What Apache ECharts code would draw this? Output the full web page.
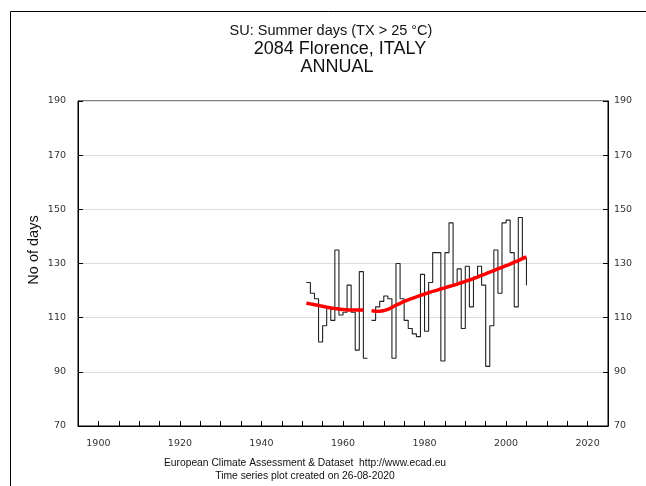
<!DOCTYPE html>
<html><head><meta charset="utf-8">
<script src="https://cdn.jsdelivr.net/npm/echarts@6/dist/echarts.min.js"></script>
<style>html,body{margin:0;padding:0;background:#fff}#c{width:646px;height:486px}</style>
</head><body><div id="c"></div>
<script>
const years = [1951,1952,1953,1954,1955,1956,1957,1958,1959,1960,1961,1962,1963,1964,1965,1966,1967,1968,1969,1970,1971,1972,1973,1974,1975,1976,1977,1978,1979,1980,1981,1982,1983,1984,1985,1986,1987,1988,1989,1990,1991,1992,1993,1994,1995,1996,1997,1998,1999,2000,2001,2002,2003,2004,2005];
const summerDays = [123,119,117,101,107,114,109,135,111,112,122,112,98,127,95,null,109,114,116,118,117,95,130,117,109,106,104,103,126,105,123,134,134,94,134,145,122,128,106,129,114,125,129,122,92,107,135,119,145,146,134,114,147,132,122];
const trend = [115.3,115.1,114.8,114.5,114.2,113.9,113.6,113.4,113.2,113.0,112.9,112.8,112.8,112.8,112.8,null,112.6,112.4,112.4,112.6,113.1,113.8,114.6,115.3,116.0,116.6,117.1,117.7,118.2,118.7,119.2,119.7,120.1,120.6,121.0,121.5,121.9,122.4,122.9,123.4,123.9,124.4,125.0,125.6,126.2,126.8,127.4,128.0,128.6,129.2,129.8,130.5,131.1,131.8,132.4];
const xLabelYears = [1900,1920,1940,1960,1980,2000,2020];
const titleLines = ['SU: Summer days (TX > 25 °C)','2084 Florence, ITALY','ANNUAL'];
const yAxisTitle = 'No of days';
const footerLines = ['European Climate Assessment & Dataset  http://www.ecad.eu','Time series plot created on 26-08-2020'];

const chart = echarts.init(document.getElementById('c'), null, {renderer:'canvas'});
const pair = arr => years.map((y,i)=>[y, arr[i]===null ? '-' : arr[i]]);
const tickFont = {fontFamily:'DejaVu Sans', fontSize:9.5, color:'#333'};
const yAxisCommon = {
  type:'value', min:70, max:190, interval:20,
  axisLine:{show:true, lineStyle:{color:'#000', width:1}},
  axisTick:{show:true, inside:true, length:5, lineStyle:{color:'#000'}},
  splitLine:{show:true, lineStyle:{color:'#dcdcdc', width:1}}
};
chart.setOption({
  animation:false,
  backgroundColor:'#fff',
  grid:{left:78, right:38, top:101, bottom:60, show:true, borderColor:'#000', borderWidth:1},
  xAxis:{
    type:'value', min:1895, max:2025, interval:5,
    axisLine:{show:true, onZero:false, lineStyle:{color:'#000', width:1}},
    axisTick:{show:true, inside:true, length:5, lineStyle:{color:'#000'}},
    splitLine:{show:false},
    axisLabel:Object.assign({margin:13, showMinLabel:true, showMaxLabel:true,
      formatter:v => xLabelYears.includes(v) ? String(v) : ''}, tickFont)
  },
  yAxis:[
    Object.assign({position:'left', axisLabel:Object.assign({margin:12}, tickFont)}, yAxisCommon),
    Object.assign({position:'right', axisLabel:Object.assign({margin:6}, tickFont)}, yAxisCommon, {splitLine:{show:false}})
  ],
  series:[
    {type:'line', data:pair(summerDays), step:'end', symbol:'none', connectNulls:false,
     lineStyle:{color:'#222', width:1.1}, z:2},
    {type:'line', data:pair(trend), smooth:true, symbol:'none', connectNulls:false,
     lineStyle:{color:'#ff0000', width:3.5}, z:3}
  ],
  graphic:[
    {type:'rect', shape:{x:10.5, y:11.5, width:1000, height:1000}, style:{fill:'none', stroke:'#000', lineWidth:1}, silent:true},
    {type:'text', x:331, y:31, style:{text:titleLines[0], font:'14.5px "Liberation Sans"', fill:'#111', textAlign:'center', textVerticalAlign:'middle'}},
    {type:'text', x:340, y:49, style:{text:titleLines[1], font:'18px "Liberation Sans"', fill:'#111', textAlign:'center', textVerticalAlign:'middle'}},
    {type:'text', x:337, y:67, style:{text:titleLines[2], font:'18px "Liberation Sans"', fill:'#111', textAlign:'center', textVerticalAlign:'middle'}},
    {type:'text', x:34, y:250, rotation:Math.PI/2, style:{text:yAxisTitle, font:'14.5px "Liberation Sans"', fill:'#111', textAlign:'center', textVerticalAlign:'middle'}},
    {type:'text', x:305, y:463, style:{text:footerLines[0], font:'10.3px "Liberation Sans"', fill:'#111', textAlign:'center', textVerticalAlign:'middle'}},
    {type:'text', x:305, y:476, style:{text:footerLines[1], font:'10.3px "Liberation Sans"', fill:'#111', textAlign:'center', textVerticalAlign:'middle'}}
  ]
});
</script>
</body></html>
